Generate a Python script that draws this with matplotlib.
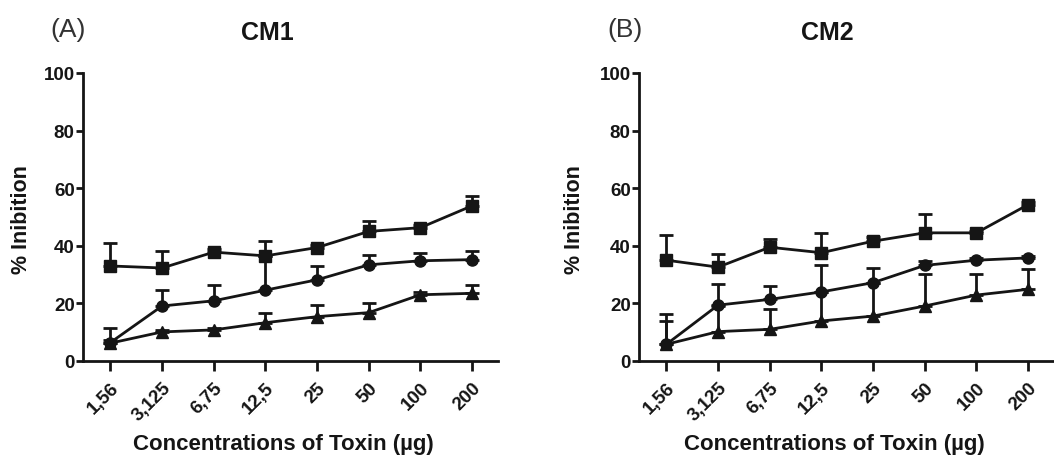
import matplotlib
matplotlib.use("Agg")
import matplotlib.pyplot as plt
import numpy as np

plt.rcParams['font.family'] = ['Liberation Sans', 'DejaVu Sans']

concentrations = ['1,56', '3,125', '6,75', '12,5', '25', '50', '100', '200']

# Panel A - CM1 (mean, upper error)
cm1_square = [33.0, 32.3, 37.8, 36.5, 39.4, 45.0, 46.3, 53.9]
cm1_square_err = [8.0, 5.8, 1.0, 5.0, 1.0, 3.7, 1.0, 3.5]
cm1_circle = [6.4, 19.1, 20.9, 24.6, 28.2, 33.4, 34.8, 35.2]
cm1_circle_err = [5.2, 5.5, 5.5, 12.0, 4.8, 3.3, 2.6, 3.0]
cm1_triangle = [6.2, 10.1, 10.8, 13.3, 15.4, 16.8, 23.0, 23.5]
cm1_triangle_err = [1.0, 0.5, 0.5, 3.3, 4.0, 3.2, 0.8, 2.9]

# Panel B - CM2
cm2_square = [35.0, 32.6, 39.5, 37.6, 41.6, 44.5, 44.5, 54.3]
cm2_square_err = [8.9, 4.6, 2.7, 6.8, 1.5, 6.6, 0.8, 0.8]
cm2_circle = [5.8, 19.4, 21.4, 24.0, 27.2, 33.2, 35.0, 35.8]
cm2_circle_err = [10.4, 7.2, 4.6, 9.2, 5.0, 1.5, 0.8, 0.8]
cm2_triangle = [5.8, 10.2, 11.0, 13.9, 15.6, 19.1, 22.9, 24.9]
cm2_triangle_err = [8.0, 9.0, 6.9, 10.0, 11.5, 11.2, 7.4, 7.2]

W, H = 1054, 464
fig = plt.figure(figsize=(W / 100, H / 100), dpi=100)

panels = [
    dict(left=83, right=498, title='CM1', tag='(A)', title_x=267, tag_x=68, ylab_x=22, xlab_x=283,
         series=[(cm1_square, cm1_square_err, 's'), (cm1_circle, cm1_circle_err, 'o'),
                 (cm1_triangle, cm1_triangle_err, '^')]),
    dict(left=639, right=1054, title='CM2', tag='(B)', title_x=827, tag_x=625, ylab_x=574, xlab_x=834,
         series=[(cm2_square, cm2_square_err, 's'), (cm2_circle, cm2_circle_err, 'o'),
                 (cm2_triangle, cm2_triangle_err, '^')]),
]

top_px, bottom_px = 74, 362
ink = '#151515'

for p in panels:
    ax = fig.add_axes([p['left'] / W, 1 - bottom_px / H, (p['right'] - p['left']) / W,
                       (bottom_px - top_px) / H])
    x = np.arange(len(concentrations))
    sizes = {'s': 9, 'o': 8, '^': 8}
    for vals, err, mk in p['series']:
        ax.errorbar(x, vals, yerr=[np.zeros(len(err)), err], fmt='-' + mk, color=ink,
                    ecolor=ink, elinewidth=2, capsize=5, capthick=2, lw=2,
                    markersize=sizes[mk], clip_on=False)
    ax.set_xlim(-0.53, 7.5)
    ax.set_ylim(0, 100)
    ax.set_yticks([0, 20, 40, 60, 80, 100])
    ax.set_xticks(x)
    ax.set_xticklabels(concentrations, rotation=45, ha='right', rotation_mode='anchor',
                       fontsize=13.5, fontweight='bold', color=ink)
    for lab in ax.get_yticklabels():
        lab.set_fontsize(13.5)
        lab.set_fontweight('bold')
        lab.set_color(ink)
    ax.spines['top'].set_visible(False)
    ax.spines['right'].set_visible(False)
    for s in ['left', 'bottom']:
        ax.spines[s].set_linewidth(2)
        ax.spines[s].set_color(ink)
    ax.tick_params(axis='y', length=5, width=2, direction='out', pad=1, color=ink)
    ax.tick_params(axis='x', length=7, width=2, direction='out', pad=6, color=ink)

    fig.text(p['title_x'] / W, 1 - 33 / H, p['title'], ha='center', va='center',
             fontsize=18, fontweight='bold', color=ink)
    fig.text(p['tag_x'] / W, 1 - 30 / H, p['tag'], ha='center', va='center',
             fontsize=19, color='#333333')
    fig.text(p['ylab_x'] / W, 1 - 220 / H, '% Inibition', ha='center', va='center',
             rotation=90, fontsize=15.5, fontweight='bold', color=ink)
    fig.text(p['xlab_x'] / W, 1 - 445 / H, 'Concentrations of Toxin (µg)', ha='center',
             va='center', fontsize=16, fontweight='bold', color=ink)

fig.savefig('out.png', dpi=100)
